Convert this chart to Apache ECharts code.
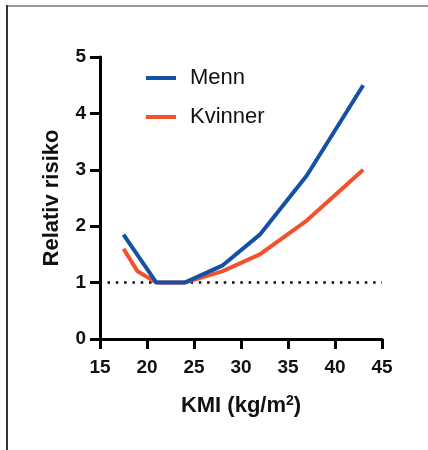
<!DOCTYPE html>
<html>
<head>
<meta charset="utf-8">
<style>
  html, body { margin: 0; padding: 0; background: #fff; }
  #chart { width: 428px; height: 450px; }
</style>
<script src="https://cdn.jsdelivr.net/npm/echarts@6/dist/echarts.min.js"></script>
</head>
<body>
<div id="chart"></div>
<script>
// KMI-verdier og relativ risiko, lest av figuren
const menKmi = [17.5, 21, 24, 28, 32, 37, 43]
const menRisk = [1.85, 1.0, 1.0, 1.3, 1.85, 2.9, 4.5]
const womenKmi = [17.5, 19, 21, 24, 28, 32, 37, 43]
const womenRisk = [1.6, 1.2, 1.0, 1.0, 1.2, 1.5, 2.1, 3.0]
const refKmi = [15.8, 45]
const refRisk = [1, 1]

const FONT = '"Liberation Sans", Arial, Helvetica, sans-serif'
const BLUE = '#1350a6'
const ORANGE = '#f2512b'

const pairs = (xs, ys) => xs.map((x, i) => [x, ys[i]])

const chart = echarts.init(document.getElementById('chart'))

chart.setOption({
    animation: false,
    textStyle: { fontFamily: FONT },
    // ramme oppe og til venstre
    graphic: [
        { type: 'line', shape: { x1: 6, y1: 6, x2: 428, y2: 6 }, style: { stroke: '#999', lineWidth: 2 } },
        { type: 'line', shape: { x1: 7, y1: 5, x2: 7, y2: 450 }, style: { stroke: '#333', lineWidth: 2 } }
    ],
    grid: { left: 100, right: 46, top: 57, bottom: 111 },
    legend: {
        orient: 'vertical',
        left: 141,
        top: 62,
        itemWidth: 30,
        itemHeight: 4,
        itemGap: 17,
        icon: 'rect',
        data: ['Menn', 'Kvinner'],
        textStyle: { fontSize: 22, color: '#111', fontFamily: FONT, padding: [0, 0, 0, 9] }
    },
    xAxis: {
        type: 'value',
        min: 15,
        max: 45,
        interval: 5,
        name: 'KMI (kg/m{sup|2})',
        nameLocation: 'middle',
        nameGap: 55,
        nameTextStyle: {
            fontSize: 22, fontWeight: 'bold', color: '#111', fontFamily: FONT,
            rich: { sup: { fontSize: 14, fontWeight: 'bold', verticalAlign: 'top', padding: [0, 0, 10, 0] } }
        },
        splitLine: { show: false },
        axisLine: { lineStyle: { color: '#000', width: 3 } },
        axisTick: { length: 10, lineStyle: { color: '#000', width: 3 } },
        axisLabel: { fontSize: 19, fontWeight: 'bold', color: '#111', margin: 19 }
    },
    yAxis: {
        type: 'value',
        min: 0,
        max: 5,
        interval: 1,
        name: 'Relativ risiko',
        nameLocation: 'middle',
        nameGap: 37,
        nameTextStyle: { fontSize: 22, fontWeight: 'bold', color: '#111', fontFamily: FONT },
        splitLine: { show: false },
        axisLine: { show: true, lineStyle: { color: '#000', width: 3 } },
        axisTick: { show: true, length: 10, lineStyle: { color: '#000', width: 3 } },
        axisLabel: { fontSize: 19, fontWeight: 'bold', color: '#111', margin: 14 }
    },
    series: [
        {
            name: 'Referanse',
            type: 'line',
            data: pairs(refKmi, refRisk),
            symbol: 'none',
            silent: true,
            lineStyle: { color: '#000', width: 2.5, type: [2.5, 5.8] },
            z: 1
        },
        {
            name: 'Kvinner',
            type: 'line',
            data: pairs(womenKmi, womenRisk),
            symbol: 'none',
            color: ORANGE,
            lineStyle: { color: ORANGE, width: 4 },
            z: 2
        },
        {
            name: 'Menn',
            type: 'line',
            data: pairs(menKmi, menRisk),
            symbol: 'none',
            color: BLUE,
            lineStyle: { color: BLUE, width: 4 },
            z: 3
        }
    ]
})
</script>
</body>
</html>
